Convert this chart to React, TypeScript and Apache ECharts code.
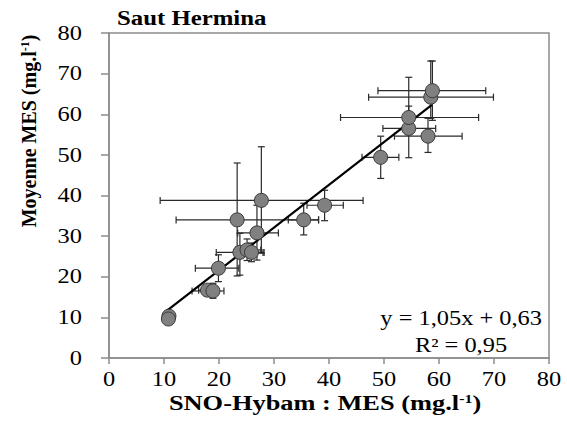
import React, { useEffect, useRef } from "react";
import * as echarts from "echarts";

const titleText = "Saut Hermina";
const xTicks = [0, 10, 20, 30, 40, 50, 60, 70, 80];
const yTicks = [0, 10, 20, 30, 40, 50, 60, 70, 80];

// SNO-Hybam MES (x) vs Moyenne MES (y)
const obsX = [10.9, 10.8, 17.9, 18.9, 19.9, 23.8, 25.1, 25.9, 26.9, 23.3, 27.7, 35.4, 39.2, 49.4, 58.0, 54.5, 54.5, 58.5, 58.8];
const obsY = [10.3, 9.6, 16.7, 16.5, 22.1, 26.0, 26.6, 26.0, 30.8, 34.0, 38.8, 34.0, 37.6, 49.4, 54.6, 56.5, 59.2, 64.2, 65.8];
const xLow = [10.9, 10.8, 16.3, 15.1, 15.7, 19.5, 23.0, 24.2, 23.4, 12.2, 9.3, 32.6, 36.0, 46.0, 51.9, 49.8, 42.1, 47.2, 48.9];
const xHigh = [10.9, 10.8, 19.3, 20.9, 23.6, 28.0, 27.6, 28.2, 30.8, 38.1, 46.2, 38.1, 42.6, 52.7, 64.2, 59.4, 67.2, 69.9, 68.5];
const yLow = [10.3, 9.6, 15.2, 14.7, 18.8, 20.4, 24.0, 23.7, 24.1, 20.2, 25.8, 30.3, 33.8, 44.2, 50.6, 49.3, 55.0, 59.0, 58.5];
const yHigh = [10.3, 9.6, 18.0, 18.4, 25.4, 30.7, 29.3, 28.3, 37.6, 48.0, 52.0, 38.1, 41.3, 54.6, 59.0, 62.0, 69.1, 73.1, 73.1];

const trendX = [10.6, 58.7];
const trendY = [11.7, 62.3];

const equationText = "y = 1,05x + 0,63";
const r2Text = "R² = 0,95";

const FONT = "'Liberation Serif', 'Times New Roman', serif";
const SX = 1.22; // horizontal stretch of the reference's lettering

export default function App() {
  const ref = useRef<HTMLDivElement>(null);
  useEffect(() => {
    if (!ref.current) return;
    const chart = echarts.init(ref.current, undefined, { renderer: "svg" });
    const errData = obsX.map((x, i) => [x, obsY[i], xLow[i], xHigh[i], yLow[i], yHigh[i]]);
    const cap = 3.5;
    const lineStyle = { stroke: "#2a2a2a", lineWidth: 1.2 };
    chart.setOption({
      animation: false,
      grid: {
        left: 109,
        top: 33,
        width: 440,
        height: 325,
        show: true,
        borderColor: "#8c8c8c",
        borderWidth: 1.5,
        backgroundColor: "transparent",
      },
      xAxis: {
        type: "value",
        min: 0,
        max: 80,
        interval: 10,
        splitLine: { show: false },
        axisLine: { show: true, lineStyle: { color: "#8c8c8c", width: 1.5 } },
        axisTick: { show: true, inside: false, length: 6, lineStyle: { color: "#8c8c8c", width: 1.5 } },
        axisLabel: { show: false },
      },
      yAxis: {
        type: "value",
        min: 0,
        max: 80,
        interval: 10,
        splitLine: { show: false },
        axisLine: { show: true, lineStyle: { color: "#8c8c8c", width: 1.5 } },
        axisTick: { show: true, inside: false, length: 8, lineStyle: { color: "#8c8c8c", width: 1.5 } },
        axisLabel: { show: false },
      },
      series: [
        {
          type: "custom",
          z: 1,
          data: errData,
          encode: { x: 0, y: 1 },
          renderItem: (params: any, api: any) => {
            const x = api.value(0);
            const y = api.value(1);
            const xl = api.value(2);
            const xh = api.value(3);
            const yl = api.value(4);
            const yh = api.value(5);
            const c = api.coord([x, y]);
            const pxl = api.coord([xl, y])[0];
            const pxh = api.coord([xh, y])[0];
            const pyl = api.coord([x, yl])[1];
            const pyh = api.coord([x, yh])[1];
            const children: any[] = [];
            if (xh > xl) {
              children.push({ type: "line", shape: { x1: pxl, y1: c[1], x2: pxh, y2: c[1] }, style: lineStyle });
              children.push({ type: "line", shape: { x1: pxl, y1: c[1] - cap, x2: pxl, y2: c[1] + cap }, style: lineStyle });
              children.push({ type: "line", shape: { x1: pxh, y1: c[1] - cap, x2: pxh, y2: c[1] + cap }, style: lineStyle });
            }
            if (yh > yl) {
              children.push({ type: "line", shape: { x1: c[0], y1: pyl, x2: c[0], y2: pyh }, style: lineStyle });
              children.push({ type: "line", shape: { x1: c[0] - cap, y1: pyl, x2: c[0] + cap, y2: pyl }, style: lineStyle });
              children.push({ type: "line", shape: { x1: c[0] - cap, y1: pyh, x2: c[0] + cap, y2: pyh }, style: lineStyle });
            }
            return { type: "group", children };
          },
        },
        {
          type: "line",
          z: 2,
          data: trendX.map((x, i) => [x, trendY[i]]),
          symbol: "none",
          lineStyle: { color: "#000", width: 2.2 },
        },
        {
          type: "scatter",
          z: 3,
          data: obsX.map((x, i) => [x, obsY[i]]),
          symbol: "circle",
          symbolSize: 14,
          itemStyle: { color: "#808080", borderColor: "#3a3a3a", borderWidth: 1, opacity: 1 },
        },
      ],
    });

    // tick labels placed through the axes' own scales
    const baseY = chart.convertToPixel({ yAxisIndex: 0 }, 0) as number;
    const leftX = chart.convertToPixel({ xAxisIndex: 0 }, 0) as number;
    const tickLabels: any[] = [];
    xTicks.forEach((v) => {
      const px = chart.convertToPixel({ xAxisIndex: 0 }, v) as number;
      tickLabels.push({
        type: "text",
        x: px,
        y: baseY + 21,
        scaleX: SX,
        style: { text: String(v), align: "center", verticalAlign: "middle", fontFamily: FONT, fontSize: 20, fill: "#000" },
      });
    });
    yTicks.forEach((v) => {
      const py = chart.convertToPixel({ yAxisIndex: 0 }, v) as number;
      tickLabels.push({
        type: "text",
        x: leftX - 27,
        y: py,
        scaleX: SX,
        style: { text: String(v), align: "right", verticalAlign: "middle", fontFamily: FONT, fontSize: 20, fill: "#000" },
      });
    });

    const supRich = {
      a: { fontFamily: FONT, fontSize: 20, fontWeight: "bold", fill: "#000" },
      s: { fontFamily: FONT, fontSize: 12, fontWeight: "bold", fill: "#000", verticalAlign: "top", padding: [0, 0, 8, 0] },
    };

    chart.setOption({
      graphic: [
        ...tickLabels,
        {
          type: "text",
          x: 117,
          y: 18,
          scaleX: 1.24,
          style: { text: titleText, align: "left", verticalAlign: "middle", fontFamily: FONT, fontSize: 20, fontWeight: "bold", fill: "#000" },
        },
        {
          type: "text",
          x: 29,
          y: 131,
          rotation: Math.PI / 2,
          scaleY: 1.1,
          style: { text: "{a|Moyenne MES (mg.l}{s|-1}{a|)}", align: "center", verticalAlign: "middle", rich: supRich },
        },
        {
          type: "text",
          x: 325,
          y: 403,
          scaleX: 1.32,
          style: { text: "{a|SNO-Hybam : MES (mg.l}{s|-1}{a|)}", align: "center", verticalAlign: "middle", rich: supRich },
        },
        {
          type: "text",
          x: 542,
          y: 318,
          scaleX: SX,
          style: { text: equationText, align: "right", verticalAlign: "middle", fontFamily: FONT, fontSize: 20, fill: "#000" },
        },
        {
          type: "text",
          x: 461,
          y: 345,
          scaleX: SX,
          style: { text: r2Text, align: "center", verticalAlign: "middle", fontFamily: FONT, fontSize: 20, fill: "#000" },
        },
      ],
    });
    return () => chart.dispose();
  }, []);
  return <div ref={ref} style={{ width: 567, height: 441, position: "absolute", left: 0, top: 0 }} />;
}
